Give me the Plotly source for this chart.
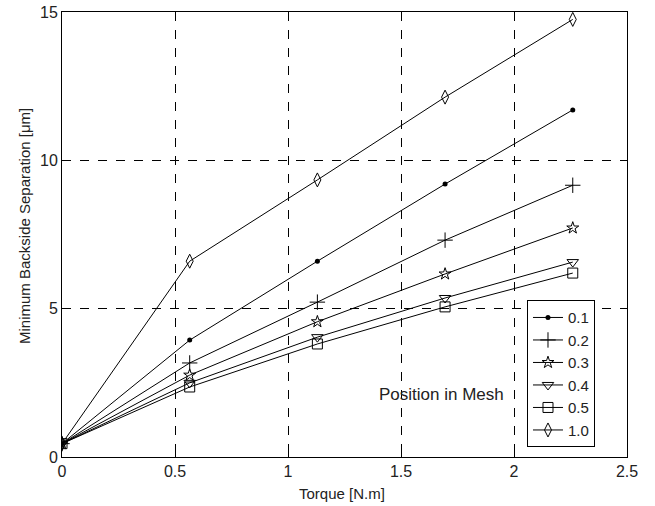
import plotly.graph_objects as go

torque = [0, 0.565, 1.13, 1.695, 2.26]
series_names = ["0.1", "0.2", "0.3", "0.4", "0.5", "1.0"]
sep_01 = [0.45, 3.94, 6.60, 9.20, 11.70]
sep_02 = [0.45, 3.17, 5.22, 7.31, 9.16]
sep_03 = [0.45, 2.76, 4.56, 6.17, 7.72]
sep_04 = [0.45, 2.50, 4.04, 5.36, 6.57]
sep_05 = [0.45, 2.36, 3.81, 5.06, 6.20]
sep_10 = [0.45, 6.60, 9.34, 12.13, 14.75]
x_ticks = [0, 0.5, 1, 1.5, 2, 2.5]
x_tick_text = ["0", "0.5", "1", "1.5", "2", "2.5"]
y_ticks = [0, 5, 10, 15]
y_tick_text = ["0", "5", "10", "15"]

values = [sep_01, sep_02, sep_03, sep_04, sep_05, sep_10]
markers = [
    dict(symbol="circle", size=5, color="black"),
    dict(symbol="cross-thin", size=11, color="black", line=dict(width=1, color="black")),
    dict(symbol="star-open", size=9, color="black", line=dict(width=1, color="black")),
    dict(symbol="triangle-down-open", size=10, color="black", line=dict(width=1, color="black")),
    dict(symbol="square-open", size=10, color="black", line=dict(width=1, color="black")),
    dict(symbol="diamond-tall-open", size=10, color="black", line=dict(width=1, color="black")),
]

font = "Liberation Sans, Arial, sans-serif"
txt = "#222"
fig = go.Figure()
for name, vals, mk in zip(series_names, values, markers):
    fig.add_trace(go.Scatter(x=torque, y=vals, name=name, mode="lines+markers",
                             line=dict(color="black", width=1), marker=mk))

fig.add_annotation(x=1.68, y=2.1, text="Position in Mesh", showarrow=False,
                   xref="x", yref="y", font=dict(family=font, size=17, color=txt))
fig.add_annotation(x=0.4956, y=-0.081, text="Torque [N.m]", showarrow=False,
                   xanchor="center", yanchor="middle",
                   xref="paper", yref="paper", font=dict(family=font, size=15, color=txt))
fig.add_annotation(x=-0.0673, y=0.519, text="Minimum Backside Separation [\u03bcm]", showarrow=False,
                   xanchor="center", yanchor="middle",
                   textangle=-90, xref="paper", yref="paper", font=dict(family=font, size=15, color=txt))

axis_common = dict(showline=True, linecolor="black", linewidth=1, mirror=True,
                   showgrid=True, gridcolor="black", griddash="dash", gridwidth=1,
                   zeroline=False, ticks="inside", ticklen=4, tickcolor="black",
                   automargin=False,
                   tickfont=dict(family=font, size=16, color=txt))
fig.update_xaxes(range=[0, 2.5], tickvals=x_ticks, ticktext=x_tick_text, **axis_common)
fig.update_yaxes(range=[0, 15], tickvals=y_ticks, ticktext=y_tick_text, **axis_common)

fig.update_layout(
    width=655, height=506,
    margin=dict(l=62, r=28, t=12, b=49),
    plot_bgcolor="white", paper_bgcolor="white",
    legend=dict(x=0.823, y=0.022, xanchor="left", yanchor="bottom",
                bordercolor="black", borderwidth=1, bgcolor="white",
                font=dict(family=font, size=15, color=txt),
                itemwidth=30, tracegroupgap=0, entrywidth=77, entrywidthmode="pixels"),
)
fig.write_html("out.html", config={"displayModeBar": False},
               post_script="document.body.style.margin='0';")
